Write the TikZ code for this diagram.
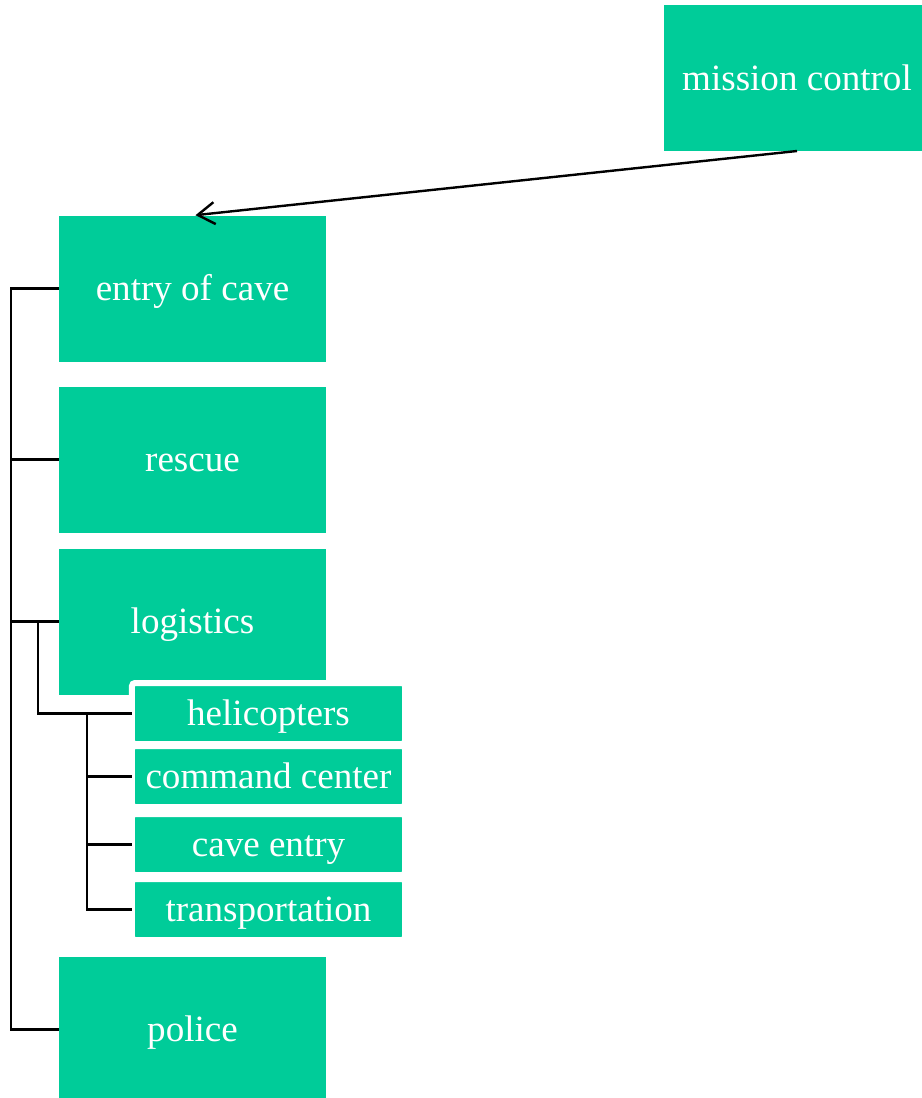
\documentclass[tikz,border=0pt]{standalone}
\usepackage{fontspec}
\setmainfont{Liberation Serif}
\usetikzlibrary{arrows.meta}
\definecolor{boxgreen}{RGB}{0,204,153}
\tikzset{
  boxtext/.style={text=white, inner sep=0pt, outer sep=0pt, text height=28bp, text depth=4bp, font=\fontsize{37.2pt}{44pt}\selectfont},
  bigbox/.style={boxtext, fill=boxgreen, minimum width=267bp, minimum height=146bp},
  smallbox/.style={boxtext, fill=boxgreen, draw=white, line width=6bp, rounded corners=3bp, minimum width=273bp, minimum height=61bp},
  conn/.style={draw=black, line width=2.4bp},
  arrowconn/.style={draw=black, line width=2.4bp, -{Straight Barb[length=17bp,width=22bp,line width=2.4bp]}, shorten >=3bp}
}
\begin{document}
\begin{tikzpicture}[x=1bp,y=-1bp]
\useasboundingbox (0,0) rectangle (922,1098);
\begin{scope}
\clip (0,0) rectangle (922,1098);
\node[bigbox, minimum width=266bp] (mission) at (797,78) {mission control};
\node[bigbox] (entry) at (192.5,288.5) {entry of cave};
\node[bigbox] (rescue) at (192.5,459.5) {rescue};
\node[bigbox] (logistics) at (192.5,621.5) {logistics};
\node[bigbox, minimum height=145bp] (police) at (192.5,1029.5) {police};
\node[smallbox] (heli) at (268.5,713.5) {helicopters};
\node[smallbox] (cmd) at (268.5,776.5) {command center};
\node[smallbox] (cave) at (268.5,844.5) {cave entry};
\node[smallbox] (trans) at (268.5,909.5) {transportation};
\end{scope}
\coordinate (trunk) at (11,289);
\coordinate (subA) at (38,622);
\coordinate (subB) at (87,713);
\draw[conn] (entry.west) -- (entry.west -| trunk) |- (police.west);
\draw[conn] (rescue.west -| trunk) -- (rescue.west);
\draw[conn] (logistics.west -| trunk) -- (logistics.west);
\draw[conn] (logistics.west -| subA) |- (heli.west);
\draw[conn] (heli.west -| subB) |- (trans.west);
\draw[conn] (cmd.west -| subB) -- (cmd.west);
\draw[conn] (cave.west -| subB) -- (cave.west);
\draw[arrowconn] (mission.south) -- (entry.north);
\end{tikzpicture}
\end{document}
